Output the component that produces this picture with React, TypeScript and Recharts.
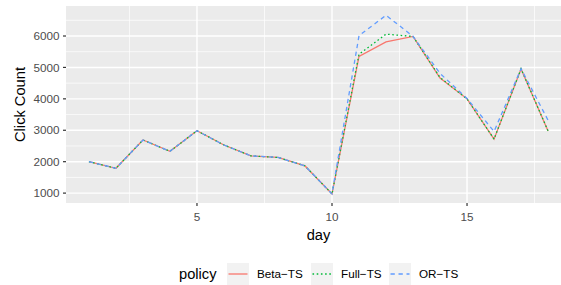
import React from 'react';
import { LineChart, Line, XAxis, YAxis, ReferenceLine, ReferenceArea } from 'recharts';

const days = [1, 2, 3, 4, 5, 6, 7, 8, 9, 10, 11, 12, 13, 14, 15, 16, 17, 18];
const betaTS = [2000, 1790, 2690, 2330, 2985, 2530, 2185, 2135, 1865, 975, 5350, 5810, 5985, 4660, 4000, 2715, 4950, 2980];
const fullTS = [2000, 1790, 2690, 2330, 2985, 2530, 2185, 2135, 1865, 975, 5420, 6060, 5985, 4680, 4000, 2720, 4955, 2980];
const orTS = [2000, 1790, 2690, 2330, 2985, 2530, 2185, 2135, 1865, 975, 6010, 6660, 5990, 4810, 4010, 2960, 4960, 3320];

const xTicks = [5, 10, 15];
const xMinor = [2.5, 7.5, 12.5, 17.5];
const yTicks = [1000, 2000, 3000, 4000, 5000, 6000];
const yMinor = [1500, 2500, 3500, 4500, 5500, 6500];

const seriesNames = ['Beta−TS', 'Full−TS', 'OR−TS'];
const seriesColors = ['#F8766D', '#00BA38', '#619CFF'];
const seriesDash = [undefined, '1.6 2.6', '4.3 3.7'];

const data = days.map((d, i) => ({ day: d, beta: betaTS[i], full: fullTS[i], or: orTS[i] }));

const X_DOMAIN: [number, number] = [0.15, 18.85];
const Y_DOMAIN: [number, number] = [685, 6955];

const FONT = '"Liberation Sans", Arial, Helvetica, sans-serif';
const LW = 1.3;

export default function App() {
  return (
    <div style={{ position: 'absolute', left: 0, top: 0, width: 561, height: 285, overflow: 'hidden', background: '#fff', fontFamily: FONT }}>
      <LineChart width={571} height={285} data={data} margin={{ top: 6, right: 0, left: 0, bottom: 0 }}>
        <XAxis
          dataKey="day"
          type="number"
          domain={X_DOMAIN}
          ticks={xTicks}
          allowDataOverflow
          height={82}
          axisLine={false}
          tickSize={3}
          tickMargin={7}
          tickLine={{ stroke: '#333333', strokeWidth: 1.2 }}
          tick={{ fill: '#4D4D4D', fontSize: 11.7, fontFamily: FONT }}
          label={(props: any) => {
            const vb = props.viewBox;
            return (
              <text x={vb.x + vb.width / 2} y={240} textAnchor="middle" fill="#000" fontSize={14.67} fontFamily={FONT}>
                day
              </text>
            );
          }}
        />
        <YAxis
          type="number"
          domain={Y_DOMAIN}
          ticks={yTicks}
          allowDataOverflow
          width={66}
          axisLine={false}
          tickSize={3}
          tickMargin={3.5}
          tickLine={{ stroke: '#333333', strokeWidth: 1.2 }}
          tick={{ fill: '#4D4D4D', fontSize: 11.7, fontFamily: FONT }}
          label={(props: any) => {
            const vb = props.viewBox;
            const cy = vb.y + vb.height / 2;
            return (
              <text x={25} y={cy} textAnchor="middle" fill="#000" fontSize={14.67} fontFamily={FONT} transform={`rotate(-90 25 ${cy})`}>
                Click Count
              </text>
            );
          }}
        />
        <ReferenceArea x1={X_DOMAIN[0]} x2={X_DOMAIN[1]} y1={Y_DOMAIN[0]} y2={Y_DOMAIN[1]} fill="#EBEBEB" fillOpacity={1} stroke="none" />
        {yMinor.map((v) => (
          <ReferenceLine key={'ym' + v} y={v} stroke="#FFFFFF" strokeWidth={0.7} />
        ))}
        {xMinor.map((v) => (
          <ReferenceLine key={'xm' + v} x={v} stroke="#FFFFFF" strokeWidth={0.7} />
        ))}
        {yTicks.map((v) => (
          <ReferenceLine key={'yM' + v} y={v} stroke="#FFFFFF" strokeWidth={1.4} />
        ))}
        {xTicks.map((v) => (
          <ReferenceLine key={'xM' + v} x={v} stroke="#FFFFFF" strokeWidth={1.4} />
        ))}
        <Line dataKey="beta" name={seriesNames[0]} stroke={seriesColors[0]} strokeWidth={LW} dot={false} isAnimationActive={false} type="linear" />
        <Line dataKey="full" name={seriesNames[1]} stroke={seriesColors[1]} strokeWidth={LW} strokeDasharray={seriesDash[1]} dot={false} isAnimationActive={false} type="linear" />
        <Line dataKey="or" name={seriesNames[2]} stroke={seriesColors[2]} strokeWidth={LW} strokeDasharray={seriesDash[2]} dot={false} isAnimationActive={false} type="linear" />
      </LineChart>
      <svg width={561} height={285} style={{ position: 'absolute', left: 0, top: 0, pointerEvents: 'none' }}>
        <text x={179} y={278.5} fontSize={14.67} fill="#000" fontFamily={FONT}>policy</text>
        {seriesNames.map((name, i) => {
          const boxX = [227, 311, 389][i];
          return (
            <g key={name}>
              <rect x={boxX} y={263} width={22} height={22} fill="#F2F2F2" />
              <line x1={boxX + 1.5} x2={boxX + 20.5} y1={274} y2={274} stroke={seriesColors[i]} strokeWidth={LW} strokeDasharray={seriesDash[i]} />
              <text x={boxX + 30} y={278.2} fontSize={11.7} fill="#000" fontFamily={FONT}>{name}</text>
            </g>
          );
        })}
      </svg>
    </div>
  );
}
